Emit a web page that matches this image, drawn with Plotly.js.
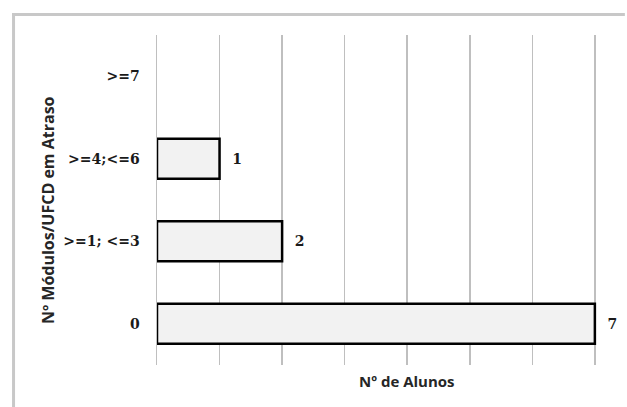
<!DOCTYPE html>
<html>
<head>
<meta charset="utf-8">
<script src="https://cdn.plot.ly/plotly-3.0.1.min.js"></script>
<style>
html,body{margin:0;padding:0;background:#fff;overflow:hidden;}
#chart{width:627px;height:407px;overflow:hidden;}
</style>
</head>
<body>
<div id="chart"></div>
<script>
// Data
const categories = ["0", ">=1; <=3", ">=4;<=6", ">=7"];
const alunos = [7, 2, 1, 0];
const xTitle = "Nº de Alunos";
const yTitle = "Nº Módulos/UFCD em Atraso";

const labels = alunos.map(v => v ? String(v) : "");
const outline = alunos.map(v => v ? 2.5 : 0);

const trace = {
  type: "bar",
  orientation: "h",
  y: categories,
  x: alunos,
  text: labels,
  texttemplate: "  %{text}",
  textposition: "outside",
  cliponaxis: false,
  textfont: {family: "DejaVu Serif", size: 14, color: "#1a1a1a", weight: "bold"},
  marker: {color: "#f2f2f2", line: {color: "#000", width: outline}},
  hoverinfo: "none"
};

const L = 157, T = 35, H = 330;
const unit = 438 / 7;
const xMax = 7.05;
const W = unit * xMax;
const titleFont = {family: "Open Sans", color: "#262626", weight: "bold"};
const px = v => (v - L) / W;
const py = v => (T + H - v) / H;

const layout = {
  width: 627, height: 407,
  margin: {l: L, r: 627 - L - W, t: T, b: 407 - T - H, pad: 0},
  paper_bgcolor: "#fff",
  plot_bgcolor: "#fff",
  showlegend: false,
  bargap: 0.515,
  xaxis: {
    range: [0, xMax],
    dtick: 1, tick0: 0,
    showgrid: true, gridcolor: "#bfbfbf", gridwidth: 1.5,
    zeroline: false,
    showticklabels: false,
    ticks: ""
  },
  yaxis: {
    type: "category",
    categoryorder: "array", categoryarray: categories,
    showgrid: false, zeroline: false,
    showline: true, linecolor: "#bfbfbf", linewidth: 1.5, layer: "above traces",
    ticks: "",
    ticklabelstandoff: 13,
    tickfont: {family: "DejaVu Serif", size: 14, color: "#1a1a1a", weight: "bold"}
  },
  annotations: [
    {text: xTitle, xref: "paper", yref: "paper",
     x: px(407), y: py(381), xanchor: "center", yanchor: "middle",
     showarrow: false, font: Object.assign({size: 15}, titleFont)},
    {text: yTitle, xref: "paper", yref: "paper", textangle: -90,
     x: px(48), y: py(210), xanchor: "center", yanchor: "middle",
     showarrow: false, font: Object.assign({size: 16}, titleFont)}
  ],
  shapes: [
    {type: "line", xref: "paper", yref: "paper", layer: "below",
     x0: px(12), x1: px(625), y0: py(14.5), y1: py(14.5),
     line: {color: "#c8c8c8", width: 3}},
    {type: "line", xref: "paper", yref: "paper", layer: "below",
     x0: px(13.5), x1: px(13.5), y0: py(13), y1: py(420),
     line: {color: "#c8c8c8", width: 3}}
  ]
};

Plotly.newPlot("chart", [trace], layout, {displayModeBar: false, staticPlot: true});
</script>
</body>
</html>
